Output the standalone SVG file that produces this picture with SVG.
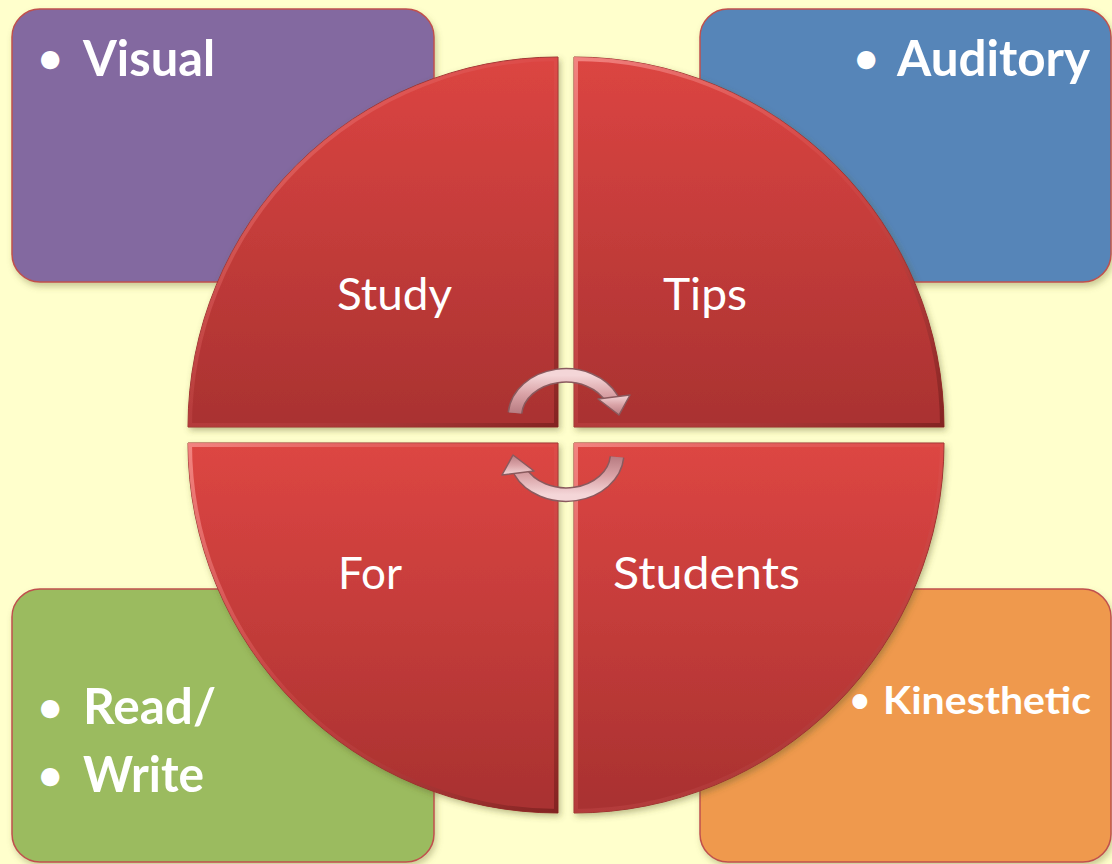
<svg xmlns="http://www.w3.org/2000/svg" width="1112" height="864" viewBox="0 0 1112 864">
  <defs>
    <style>
      .box { stroke: #C0504D; stroke-width: 1.5; filter: url(#shadow); }
      .bul { font-family: Lato, "Liberation Sans", sans-serif; font-weight: bold; fill: #FFFFFF; }
      .dot { font-family: Lato, "Liberation Sans", sans-serif; font-weight: bold; fill: #FFFFFF; }
      .lbl { font-family: Lato, "Liberation Sans", sans-serif; font-size: 44px; fill: #FFFFFF; text-anchor: middle; }
      .quad { stroke: #9A2E2C; stroke-width: 1; }
      .rim { fill: none; stroke-width: 8; }
    </style>
    <filter id="shadow" x="-10%" y="-10%" width="125%" height="130%">
      <feDropShadow dx="2" dy="4" stdDeviation="3" flood-color="#6B6B30" flood-opacity="0.35"/>
    </filter>
    <filter id="qshadow" x="-10%" y="-10%" width="125%" height="125%">
      <feDropShadow dx="2" dy="3" stdDeviation="3" flood-color="#5A5A20" flood-opacity="0.4"/>
    </filter>
    <linearGradient id="gTop" x1="0" y1="0" x2="0" y2="1">
      <stop offset="0" stop-color="#DC4542"/>
      <stop offset="1" stop-color="#A93231"/>
    </linearGradient>
    <linearGradient id="gBot" x1="0" y1="0" x2="0" y2="1">
      <stop offset="0" stop-color="#DD4643"/>
      <stop offset="1" stop-color="#A83130"/>
    </linearGradient>
    <linearGradient id="gRim" x1="0" y1="0" x2="1" y2="1">
      <stop offset="0" stop-color="#F6908C" stop-opacity="0.85"/>
      <stop offset="0.5" stop-color="#E06060" stop-opacity="0.2"/>
      <stop offset="1" stop-color="#6A1816" stop-opacity="0.6"/>
    </linearGradient>
    <linearGradient id="gArrow" x1="0" y1="0" x2="0" y2="1">
      <stop offset="0" stop-color="#F4D6D8"/>
      <stop offset="0.5" stop-color="#D9A2A6"/>
      <stop offset="1" stop-color="#B87C82"/>
    </linearGradient>
    <clipPath id="cTL"><path d="M558 427 L188 427 A370 370 0 0 1 558 57 Z"/></clipPath>
    <clipPath id="cTR"><path d="M574 427 L574 57 A370 370 0 0 1 944 427 Z"/></clipPath>
    <clipPath id="cBL"><path d="M558 443 L558 813 A370 370 0 0 1 188 443 Z"/></clipPath>
    <clipPath id="cBR"><path d="M574 443 L944 443 A370 370 0 0 1 574 813 Z"/></clipPath>
    <g id="arrow">
      <path d="M515 413 A51 41 0 0 1 612 399" fill="none" stroke="#8A5A5E" stroke-width="15"/>
      <path d="M515 413 A51 41 0 0 1 612 399" fill="none" stroke="url(#gArrow)" stroke-width="12"/>
      <polygon points="598,399 630,395 619,415" fill="url(#gArrow)" stroke="#8A5A5E" stroke-width="1.5" stroke-linejoin="round"/>
    </g>
  </defs>

  <rect x="0" y="0" width="1112" height="864" fill="#FFFFCC"/>

  <g id="visual">
    <rect class="box" x="12" y="9" width="422" height="273" rx="28" fill="#8369A0"/>
    <text class="dot" font-size="42" x="38" y="73">•</text>
    <text class="bul" font-size="50" x="83" y="76" textLength="132" lengthAdjust="spacingAndGlyphs">Visual</text>
  </g>
  <g id="auditory">
    <rect class="box" x="700" y="9" width="411" height="273" rx="28" fill="#5685B8"/>
    <text class="dot" font-size="42" x="854" y="73">•</text>
    <text class="bul" font-size="50" x="897" y="76" textLength="193" lengthAdjust="spacingAndGlyphs">Auditory</text>
  </g>
  <g id="readwrite">
    <rect class="box" x="12" y="589" width="422" height="273" rx="28" fill="#9BBB5E"/>
    <text class="dot" font-size="42" x="38" y="722">•</text>
    <text class="bul" font-size="50" x="83" y="724" textLength="133" lengthAdjust="spacingAndGlyphs">Read/</text>
    <text class="dot" font-size="42" x="38" y="790">•</text>
    <text class="bul" font-size="50" x="83" y="792" textLength="121" lengthAdjust="spacingAndGlyphs">Write</text>
  </g>
  <g id="kinesthetic">
    <rect class="box" x="700" y="589" width="411" height="273" rx="28" fill="#EF994D"/>
    <text class="dot" font-size="34" x="850" y="712">•</text>
    <text class="bul" font-size="38" x="883" y="714" textLength="208" lengthAdjust="spacingAndGlyphs">Kinesthetic</text>
  </g>

  <g id="study">
    <path class="quad" d="M558 427 L188 427 A370 370 0 0 1 558 57 Z" fill="url(#gTop)" filter="url(#qshadow)"/>
    <path class="rim" clip-path="url(#cTL)" d="M558 427 L188 427 A370 370 0 0 1 558 57 Z" stroke="url(#gRim)"/>
    <text class="lbl" x="394.5" y="310" textLength="115" lengthAdjust="spacingAndGlyphs">Study</text>
  </g>
  <g id="tips">
    <path class="quad" d="M574 427 L574 57 A370 370 0 0 1 944 427 Z" fill="url(#gTop)" filter="url(#qshadow)"/>
    <path class="rim" clip-path="url(#cTR)" d="M574 427 L574 57 A370 370 0 0 1 944 427 Z" stroke="url(#gRim)"/>
    <text class="lbl" x="705" y="310" textLength="84" lengthAdjust="spacingAndGlyphs">Tips</text>
  </g>
  <g id="for">
    <path class="quad" d="M558 443 L558 813 A370 370 0 0 1 188 443 Z" fill="url(#gBot)" filter="url(#qshadow)"/>
    <path class="rim" clip-path="url(#cBL)" d="M558 443 L558 813 A370 370 0 0 1 188 443 Z" stroke="url(#gRim)"/>
    <text class="lbl" x="370" y="589" textLength="64" lengthAdjust="spacingAndGlyphs">For</text>
  </g>
  <g id="students">
    <path class="quad" d="M574 443 L944 443 A370 370 0 0 1 574 813 Z" fill="url(#gBot)" filter="url(#qshadow)"/>
    <path class="rim" clip-path="url(#cBR)" d="M574 443 L944 443 A370 370 0 0 1 574 813 Z" stroke="url(#gRim)"/>
    <text class="lbl" x="706.5" y="589" textLength="187" lengthAdjust="spacingAndGlyphs">Students</text>
  </g>

  <g id="connectors">
    <use href="#arrow"/>
    <use href="#arrow" transform="rotate(180 566 435)"/>
  </g>
</svg>
